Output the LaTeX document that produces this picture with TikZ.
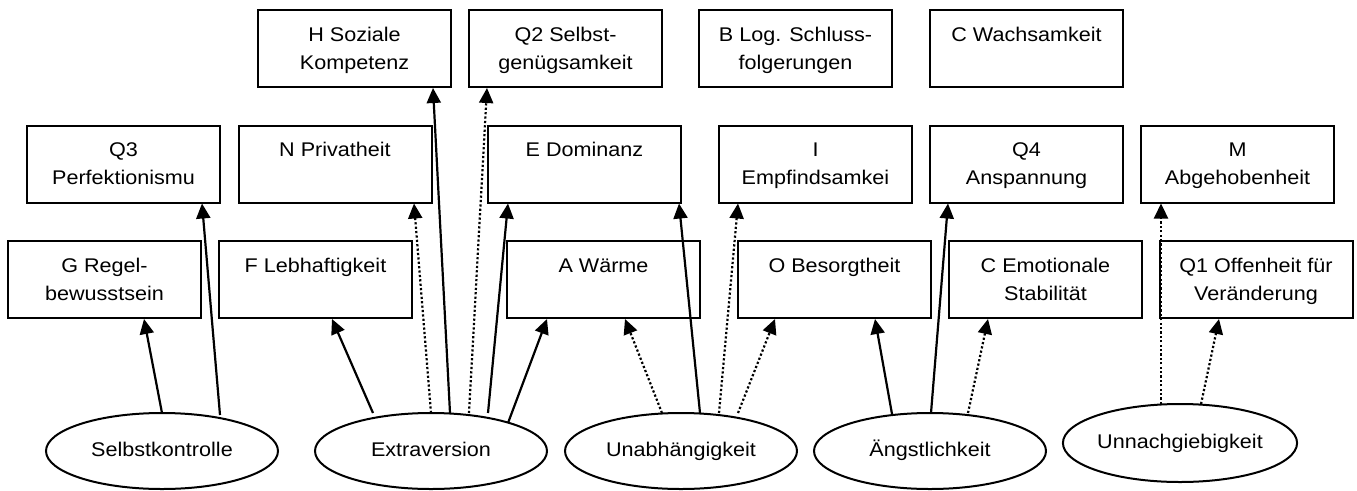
\documentclass[tikz,border=0pt]{standalone}
\usepackage{fontspec}
\setmainfont{Liberation Sans}[FakeStretch=1.09]
\usetikzlibrary{arrows.meta,shapes.geometric,calc}
\newcommand\fs{\fontsize{19.8pt}{28.3pt}\selectfont}
\newcommand\bxtwo[2]{\parbox[c][77pt][t]{190pt}{\centering\fs\rule{0pt}{31pt}#1\\#2}}
\newcommand\bxone[1]{\parbox[c][77pt][t]{190pt}{\centering\fs\rule{0pt}{31pt}#1}}
\begin{document}
\begin{tikzpicture}[x=1pt,y=-1pt,
  box/.style={draw, line width=2pt, rectangle, minimum width=193pt, minimum height=77pt, inner sep=0pt},
  fac/.style={draw, line width=2pt, ellipse, minimum width=232pt, minimum height=76pt, inner sep=0pt, text height=14pt, text depth=4pt, font=\fs},
  sol/.style={line width=2.2pt, -{Triangle[length=15pt,width=14pt]}},
  dotarr/.style={line width=2.2pt, dash pattern=on 2.2pt off 2.2pt, -{Triangle[length=15pt,width=14pt]}},
]
\path[use as bounding box, fill=white] (0,0) rectangle (1357,490);

% top row
\node[box] (H)  at (354.5,48.5)  {\bxtwo{H Soziale}{Kompetenz}};
\node[box] (Q2) at (565.5,48.5)  {\bxtwo{Q2 Selbst-}{genügsamkeit}};
\node[box] (B)  at (795.5,48.5)  {\bxtwo{B Log. Schluss-}{folgerungen}};
\node[box] (CW) at (1026.5,48.5) {\bxone{C Wachsamkeit}};

% middle row
\node[box] (Q3) at (123.5,164)  {\bxtwo{Q3}{Perfektionismu}};
\node[box] (N)  at (335,164)    {\bxone{N Privatheit}};
\node[box] (E)  at (584.5,164)  {\bxone{E Dominanz}};
\node[box] (I)  at (815.5,164)  {\bxtwo{I}{Empfindsamkei}};
\node[box] (Q4) at (1026.5,164) {\bxtwo{Q4}{Anspannung}};
\node[box] (M)  at (1237.5,164) {\bxtwo{M}{Abgehobenheit}};

% bottom row
\node[box] (G)  at (104.5,279.5)  {\bxtwo{G Regel-}{bewusstsein}};
\node[box] (F)  at (315.5,279.5)  {\bxone{F Lebhaftigkeit}};
\node[box] (A)  at (603.5,279.5)  {\bxone{A Wärme}};
\node[box] (O)  at (834.5,279.5)  {\bxone{O Besorgtheit}};
\node[box] (CE) at (1045.5,279.5) {\bxtwo{C Emotionale}{Stabilität}};
\node[box] (Q1) at (1256,279.5)   {\bxtwo{Q1 Offenheit für}{Veränderung}};

% factors
\node[fac] (sk) at (162,451)  {Selbstkontrolle};
\node[fac] (ex) at (431,451)  {Extraversion};
\node[fac] (un) at (681,451)  {Unabhängigkeit};
\node[fac] (an) at (930,451)  {Ängstlichkeit};
\node[fac, minimum height=78pt] (uw) at (1180,443) {Unnachgiebigkeit};

% connectors
\draw[sol]    ($(sk)+(0,-38)$)   -- ($(G.south)+(39.5,0)$);
\draw[sol]    ($(sk)+(58,-36)$)  -- ($(Q3.south)+(78.5,0)$);

\draw[sol]    ($(ex)+(-58,-38)$) -- ($(F.south)+(16.5,0)$);
\draw[dotarr] ($(ex)+(0,-38)$)   -- ($(N.south)+(79,0)$);
\draw[sol]    ($(ex)+(19,-38)$)  -- ($(H.south)+(78.5,0)$);
\draw[dotarr] ($(ex)+(38,-38)$)  -- ($(Q2.south)+(-78.5,0)$);
\draw[sol]    ($(ex)+(57,-38)$)  -- ($(E.south)+(-76.5,0)$);
\draw[sol]    ($(ex)+(77,-28)$)  -- ($(A.south)+(-56.5,0)$);

\draw[dotarr] ($(un)+(-19,-38)$) -- ($(A.south)+(21.5,0)$);
\draw[sol]    ($(un)+(19,-38)$)  -- ($(E.south)+(94.5,0)$);
\draw[dotarr] ($(un)+(38,-38)$)  -- ($(I.south)+(-77.5,0)$);
\draw[dotarr] ($(un)+(57,-38)$)  -- ($(O.south)+(-59.5,0)$);

\draw[sol]    ($(an)+(-38,-37)$) -- ($(O.south)+(40.5,0)$);
\draw[sol]    ($(an)+(1,-38)$)   -- ($(Q4.south)+(-78.5,0)$);
\draw[dotarr] ($(an)+(38,-38)$)  -- ($(CE.south)+(-57.5,0)$);

\draw[dotarr] ($(uw)+(-19,-39)$) -- ($(M.south)+(-76.5,0)$);
\draw[dotarr] ($(uw)+(21,-39)$)  -- ($(Q1.south)+(-37,0)$);
\end{tikzpicture}
\end{document}
